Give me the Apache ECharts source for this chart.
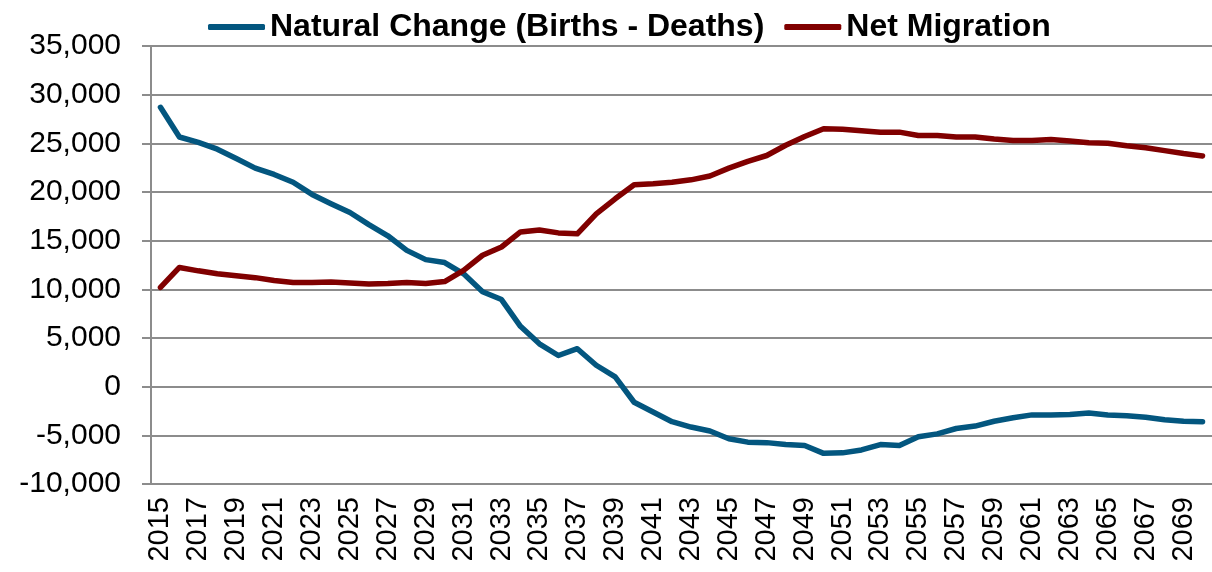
<!DOCTYPE html>
<html>
<head>
<meta charset="utf-8">
<title>Natural Change and Net Migration</title>
<script src="https://cdn.jsdelivr.net/npm/echarts@6/dist/echarts.min.js"></script>
<style>
  html, body { margin: 0; padding: 0; background: #fff; }
  #chart { width: 1212px; height: 572px; }
</style>
</head>
<body>
<div id="chart"></div>
<script>
const years = [
  '2015', '2016', '2017', '2018', '2019', '2020', '2021', '2022', '2023', '2024',
  '2025', '2026', '2027', '2028', '2029', '2030', '2031', '2032', '2033', '2034',
  '2035', '2036', '2037', '2038', '2039', '2040', '2041', '2042', '2043', '2044',
  '2045', '2046', '2047', '2048', '2049', '2050', '2051', '2052', '2053', '2054',
  '2055', '2056', '2057', '2058', '2059', '2060', '2061', '2062', '2063', '2064',
  '2065', '2066', '2067', '2068', '2069', '2070'
]

// births - deaths
const naturalChange = [
  28700, 25650, 25100, 24400, 23450, 22450, 21800, 21000, 19750, 18800,
  17900, 16650, 15500, 14000, 13050, 12750, 11600, 9750, 8950, 6200,
  4400, 3200, 3900, 2200, 1000, -1600, -2600, -3600, -4150, -4550,
  -5350, -5700, -5750, -5950, -6050, -6850, -6800, -6500, -5950, -6050,
  -5150, -4850, -4300, -4050, -3550, -3200, -2900, -2900, -2850, -2700,
  -2900, -3000, -3150, -3400, -3550, -3600
]

const netMigration = [
  10200, 12250, 11900, 11600, 11400, 11200, 10900, 10700, 10700, 10750,
  10650, 10550, 10600, 10700, 10600, 10800, 11950, 13500, 14350, 15900,
  16100, 15800, 15700, 17750, 19300, 20750, 20850, 21000, 21250, 21650,
  22450, 23150, 23750, 24800, 25700, 26500, 26450, 26300, 26150, 26150,
  25800, 25800, 25650, 25650, 25450, 25300, 25300, 25400, 25250, 25050,
  25000, 24750, 24550, 24250, 23950, 23700
]

const FONT = '"Liberation Sans", Arial, sans-serif'
const GRID_GRAY = '#8c8c8c'

const formatNumber = (value) => value.toLocaleString('en-US')

const chart = echarts.init(document.getElementById('chart'))

const lineSeries = (name, data, color) => ({
  name,
  type: 'line',
  data,
  showSymbol: false,
  symbol: 'none',
  smooth: false,
  lineStyle: { width: 5.5, color, cap: 'round', join: 'round' },
  itemStyle: { color },
  emphasis: { disabled: true }
})

const option = {
  animation: false,
  legend: {
    left: 203,
    top: 6,
    icon: 'roundRect',
    itemWidth: 57,
    itemHeight: 6,
    itemGap: 20,
    textStyle: { color: '#000', fontSize: 32, fontWeight: 'bold', fontFamily: FONT }
  },
  grid: {
    left: 151,
    right: 0,
    top: 46,
    bottom: 88,
    containLabel: false
  },
  xAxis: {
    type: 'category',
    data: years,
    boundaryGap: true,
    axisLine: { onZero: false, lineStyle: { color: GRID_GRAY, width: 2 } },
    axisTick: { show: false },
    axisLabel: {
      interval: 1,
      rotate: 90,
      margin: 13,
      color: '#000',
      fontSize: 29,
      fontFamily: FONT
    },
    splitLine: { show: false }
  },
  yAxis: {
    type: 'value',
    min: -10000,
    max: 35000,
    interval: 5000,
    axisLine: { show: true, lineStyle: { color: GRID_GRAY, width: 2 } },
    axisTick: { show: true, length: 9, lineStyle: { color: GRID_GRAY, width: 2 } },
    axisLabel: {
      margin: 30,
      color: '#000',
      fontSize: 30,
      fontFamily: FONT,
      formatter: (value) => formatNumber(value)
    },
    splitLine: { lineStyle: { color: GRID_GRAY, width: 2 } }
  },
  series: [
    lineSeries('Natural Change (Births - Deaths)', naturalChange, '#03567f'),
    lineSeries('Net Migration', netMigration, '#800000')
  ]
}

chart.setOption(option)
</script>
</body>
</html>
